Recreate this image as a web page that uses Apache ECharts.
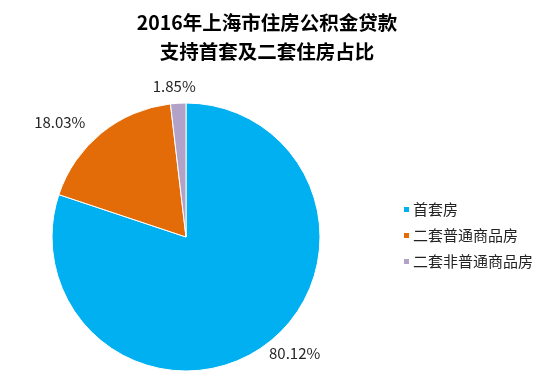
<!DOCTYPE html>
<html><head><meta charset="utf-8">
<script src="https://cdn.jsdelivr.net/npm/echarts@6/dist/echarts.min.js"></script>
<style>html,body{margin:0;padding:0;background:#fff}#c{width:545px;height:384px}</style>
</head><body><div id="c"></div>
<script>
const titleLines = ['2016年上海市住房公积金贷款', '支持首套及二套住房占比'];
const categories = ['首套房', '二套普通商品房', '二套非普通商品房'];
const values = [80.12, 18.03, 1.85];
const colors = ['#00B0F0', '#E36C09', '#B3A2C7'];

const chart = echarts.init(document.getElementById('c'));
const font = '"Noto Sans CJK SC", "Noto Sans", sans-serif';
const labelShift = [[-5, 1], [-6, -5], [23, -9]];
chart.setOption({
  animation: false,
  color: colors,
  title: {
    text: titleLines.join('\n'),
    left: 262, top: 3, textAlign: 'center',
    textStyle: { fontFamily: font, fontSize: 19.5, fontWeight: 'bold', color: '#000', lineHeight: 29 }
  },
  legend: {
    orient: 'vertical', left: 402, top: 202, padding: 0,
    itemWidth: 7, itemHeight: 7, itemGap: 11,
    icon: 'rect',
    data: categories,
    textStyle: { fontFamily: font, fontSize: 15, color: '#222', padding: [0, 0, 0, -2] }
  },
  series: [{
    type: 'pie',
    center: [186, 237],
    radius: 134,
    startAngle: 90,
    clockwise: true,
    avoidLabelOverlap: false,
    itemStyle: { borderColor: '#fff', borderWidth: 1 },
    label: {
      show: true, position: 'outside',
      formatter: p => p.value.toFixed(2) + '%',
      fontFamily: font, fontSize: 15, color: '#262626'
    },
    labelLine: { show: false, length: 8, length2: 0 },
    labelLayout: p => ({ dx: labelShift[p.dataIndex][0], dy: labelShift[p.dataIndex][1] }),
    data: categories.map((c, i) => ({ name: c, value: values[i] }))
  }]
});
</script></body></html>
